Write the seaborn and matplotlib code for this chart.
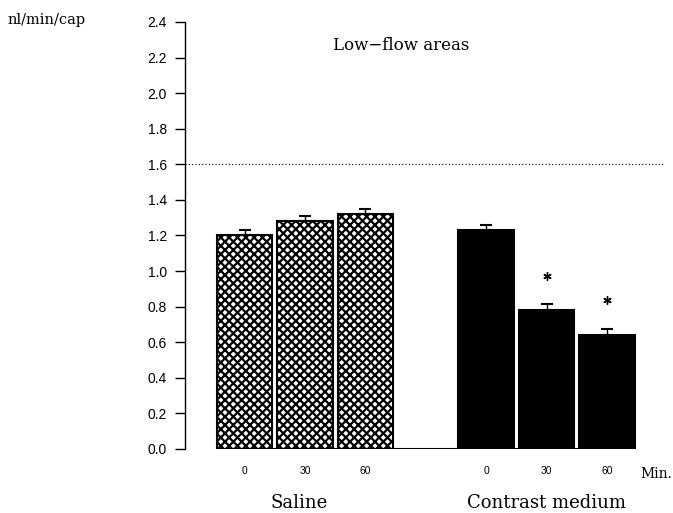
import matplotlib
matplotlib.use("Agg")
import matplotlib.pyplot as plt
import seaborn as sns
import pandas as pd
import numpy as np

# ---- data ----
groups = ["Saline", "Saline", "Saline", "Contrast medium", "Contrast medium", "Contrast medium"]
times = ["0", "30", "60", "0", "30", "60"]
flow = [1.20, 1.28, 1.32, 1.23, 0.78, 0.64]
sem = [0.03, 0.03, 0.03, 0.03, 0.035, 0.035]
significant = [False, False, False, False, True, True]
ref_level = 1.6
y_ticks = [0.0, 0.2, 0.4, 0.6, 0.8, 1.0, 1.2, 1.4, 1.6, 1.8, 2.0, 2.2, 2.4]
title = "Low\u2212flow areas"
y_unit = "nl/min/cap"

sns.set_style("white")
plt.rcParams["font.family"] = ["DejaVu Sans"]
plt.rcParams["hatch.linewidth"] = 1.6
for k in ["text.color", "xtick.color", "ytick.color", "axes.labelcolor", "axes.edgecolor"]:
    plt.rcParams[k] = "black"

keys = [f"{g} {t}" for g, t in zip(groups, times)]
order = keys[:3] + ["gap"] + keys[3:]
df = pd.DataFrame({"key": keys, "group": groups, "flow": flow})

fig = plt.figure(figsize=(6.73, 5.13), dpi=100)
ax = fig.add_axes([185 / 673, (513 - 449) / 513, (665 - 185) / 673, (449 - 22) / 513])

sns.barplot(data=df, x="key", y="flow", hue="group", order=order, dodge=False,
            palette={"Saline": "white", "Contrast medium": "black"},
            edgecolor="black", linewidth=1.5, width=0.92, legend=False, ax=ax,
            errorbar=None)

for p in ax.patches:
    if p.get_facecolor()[0] > 0.5 and p.get_height() > 0:
        p.set_hatch("xxxx")

pos = np.array([order.index(k) for k in keys], dtype=float)
ax.errorbar(pos, flow, yerr=[np.zeros(len(sem)), sem], fmt="none", ecolor="black",
            elinewidth=1.0, capsize=4, capthick=1.5)

for x, v, e, s in zip(pos, flow, sem, significant):
    if s:
        ax.plot([x], [v + e + 0.16], marker=(6, 2, 0), color="black", ms=6, mew=1.0)

ax.axhline(ref_level, ls=(0, (1, 2)), color="black", lw=0.8)
ax.axhline(0, xmin=(pos[0] - 0.46 + 0.985) / 7.945, xmax=(pos[-1] + 0.46 + 0.985) / 7.945,
           color="black", lw=1.5)

ax.set_xlim(-0.985, 6.96)
ax.set_ylim(0, 2.4)
ax.set_yticks(y_ticks)
ax.set_yticklabels([f"{t:.1f}" for t in y_ticks], fontsize=10, family="Liberation Sans")
ax.set_xticks(pos)
ax.set_xticklabels(times, fontsize=7.5, family="Liberation Sans")
ax.tick_params(axis="x", length=0, pad=12)
ax.tick_params(axis="y", direction="out", length=7, width=1, color="black", pad=6, left=True)
ax.set_xlabel("")
ax.set_ylabel("")
for side in ["top", "right", "bottom"]:
    ax.spines[side].set_visible(False)
ax.spines["left"].set_color("black")
ax.spines["left"].set_linewidth(1.0)

ax.text(np.mean(pos[:3]) + 1.6, 2.27, title, ha="center", va="center",
        fontsize=12, family="DejaVu Serif")
ax.text(np.mean(pos[:3]) - 0.1, -0.305, "Saline", ha="center", va="center",
        fontsize=13, family="DejaVu Serif", clip_on=False)
ax.text(np.mean(pos[3:]), -0.305, "Contrast medium", ha="center", va="center",
        fontsize=13, family="DejaVu Serif", clip_on=False)
ax.text(pos[-1] + 0.55, -0.14, "Min.", ha="left", va="center",
        fontsize=10, family="DejaVu Serif", clip_on=False)
fig.text(8 / 673, 1 - 20 / 513, y_unit, ha="left", va="center", fontsize=10.5, family="DejaVu Serif")

fig.savefig("out.png", dpi=100)
